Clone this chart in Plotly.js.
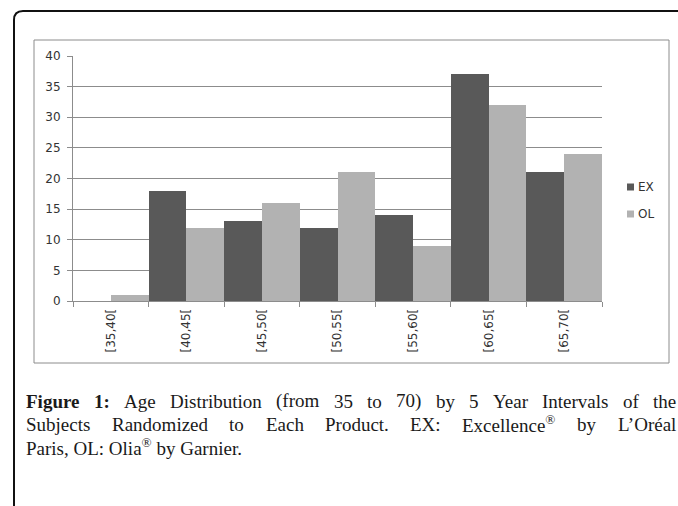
<!DOCTYPE html>
<html>
<head>
<meta charset="utf-8">
<script src="https://cdn.plot.ly/plotly-3.0.1.min.js"></script>
<style>html,body{margin:0;padding:0;background:#fff;}#chart{width:678px;height:506px;}</style>
</head>
<body>
<div id="chart"></div>
<script>
// ---- data ----
const categories = ['[35,40[', '[40,45[', '[45,50[', '[50,55[', '[55,60[', '[60,65[', '[65,70['];
const exValues = [0, 18, 13, 12, 14, 37, 21];
const olValues = [1, 12, 16, 21, 9, 32, 24];
const seriesNames = ['EX', 'OL'];
const captionLine1 = [['Figure', true], ['1:', true], ['Age'], ['Distribution'], ['(from'], ['35'], ['to'], ['70)'], ['by'], ['5'], ['Year'], ['Intervals'], ['of'], ['the']];
const captionLine2 = [['Subjects'], ['Randomized'], ['to'], ['Each'], ['Product.'], ['EX:'], ['Excellence', false, '®'], ['by'], ['L\u2019Oréal']];
const captionLine3 = 'Paris, OL: Olia<sup>®</sup> by Garnier.';

// ---- layout helpers ----
const W = 678, H = 506;
const px = x => x / W;
const py = y => 1 - y / H;
const colors = ['#595959', '#b2b2b2'];
const gridColor = '#8c8c8c';
const tickFont = {family: 'DejaVu Sans, Verdana, sans-serif', size: 12, color: '#333333'};
const capFamily = 'Liberation Serif';
const capSize = 19;

const traces = [exValues, olValues].map((vals, i) => ({
  type: 'bar',
  name: seriesNames[i],
  x: categories,
  y: vals,
  marker: {color: colors[i], line: {width: 0}},
  showlegend: false,
  hoverinfo: 'x+y'
}));

const shapes = [];
const annotations = [];

// outer rounded frame (open to the right and bottom)
const r = 9;
shapes.push({
  type: 'path', xref: 'paper', yref: 'paper',
  path: `M ${px(W + 5)} ${py(11)} L ${px(14 + r)} ${py(11)} Q ${px(14)} ${py(11)} ${px(14)} ${py(11 + r)} L ${px(14)} ${py(H + 5)}`,
  line: {color: '#111111', width: 2}
});
// inner chart border
shapes.push({
  type: 'rect', xref: 'paper', yref: 'paper',
  x0: px(34), x1: px(669), y0: py(363), y1: py(40),
  line: {color: gridColor, width: 1}
});

// legend (manual, small squares)
seriesNames.forEach((n, i) => {
  const cy = 187 + i * 27;
  shapes.push({
    type: 'rect', xref: 'paper', yref: 'paper',
    x0: px(627), x1: px(634), y0: py(cy + 3.5), y1: py(cy - 3.5),
    fillcolor: colors[i], line: {width: 0}
  });
  annotations.push({
    xref: 'paper', yref: 'paper', x: px(636), y: py(cy),
    xanchor: 'left', yanchor: 'middle', showarrow: false,
    text: n, font: tickFont
  });
});

// caption with justified lines
const ctx = document.createElement('canvas').getContext('2d');
function measure(t, bold, size) {
  ctx.font = (bold ? 'bold ' : '') + (size || capSize) + 'px "' + capFamily + '"';
  return ctx.measureText(t).width;
}
const capLeft = 26, capRight = 676;
const capFont = {family: capFamily + ', Times New Roman, serif', size: capSize, color: '#1a1a1a'};
function justify(words, cy) {
  const widths = words.map(w => measure(w[0], w[1]) + (w[2] ? measure(w[2], false, capSize * 0.7) : 0));
  const total = widths.reduce((a, b) => a + b, 0);
  const gap = (capRight - capLeft - total) / (words.length - 1);
  let x = capLeft;
  words.forEach((w, i) => {
    let t = w[1] ? '<b>' + w[0] + '</b>' : w[0];
    if (w[2]) t += '<sup>' + w[2] + '</sup>';
    annotations.push({
      xref: 'paper', yref: 'paper', x: px(x - 1), y: py(cy),
      xanchor: 'left', yanchor: 'middle', showarrow: false,
      text: t, font: capFont, borderpad: 0
    });
    x += widths[i] + gap;
  });
}
justify(captionLine1, 401);
justify(captionLine2, 424);
annotations.push({
  xref: 'paper', yref: 'paper', x: px(capLeft - 1), y: py(447),
  xanchor: 'left', yanchor: 'middle', showarrow: false,
  text: captionLine3, font: capFont, borderpad: 0
});

const layout = {
  width: W, height: H,
  margin: {l: 0, r: 0, t: 0, b: 0},
  paper_bgcolor: '#ffffff', plot_bgcolor: '#ffffff',
  barmode: 'group', bargap: 0, bargroupgap: 0,
  showlegend: false,
  xaxis: {
    domain: [px(73), px(602)],
    type: 'category',
    range: [-0.5, categories.length - 0.5],
    tickson: 'boundaries',
    ticks: 'outside', ticklen: 5, tickcolor: gridColor, tickwidth: 1,
    showline: true, linecolor: gridColor, linewidth: 1,
    showgrid: false, zeroline: false,
    tickangle: -90, tickfont: tickFont,
    ticklabelstandoff: 2,
    fixedrange: true
  },
  yaxis: {
    domain: [py(301), py(56)],
    range: [0, 40], tick0: 0, dtick: 5,
    ticks: 'outside', ticklen: 5, tickcolor: gridColor, tickwidth: 1,
    showline: true, linecolor: gridColor, linewidth: 1,
    showgrid: true, gridcolor: gridColor, gridwidth: 1,
    zeroline: false,
    tickfont: tickFont,
    ticklabelstandoff: 4,
    fixedrange: true
  },
  shapes: shapes,
  annotations: annotations
};

Plotly.newPlot('chart', traces, layout, {staticPlot: true, displayModeBar: false});
</script>
</body>
</html>
